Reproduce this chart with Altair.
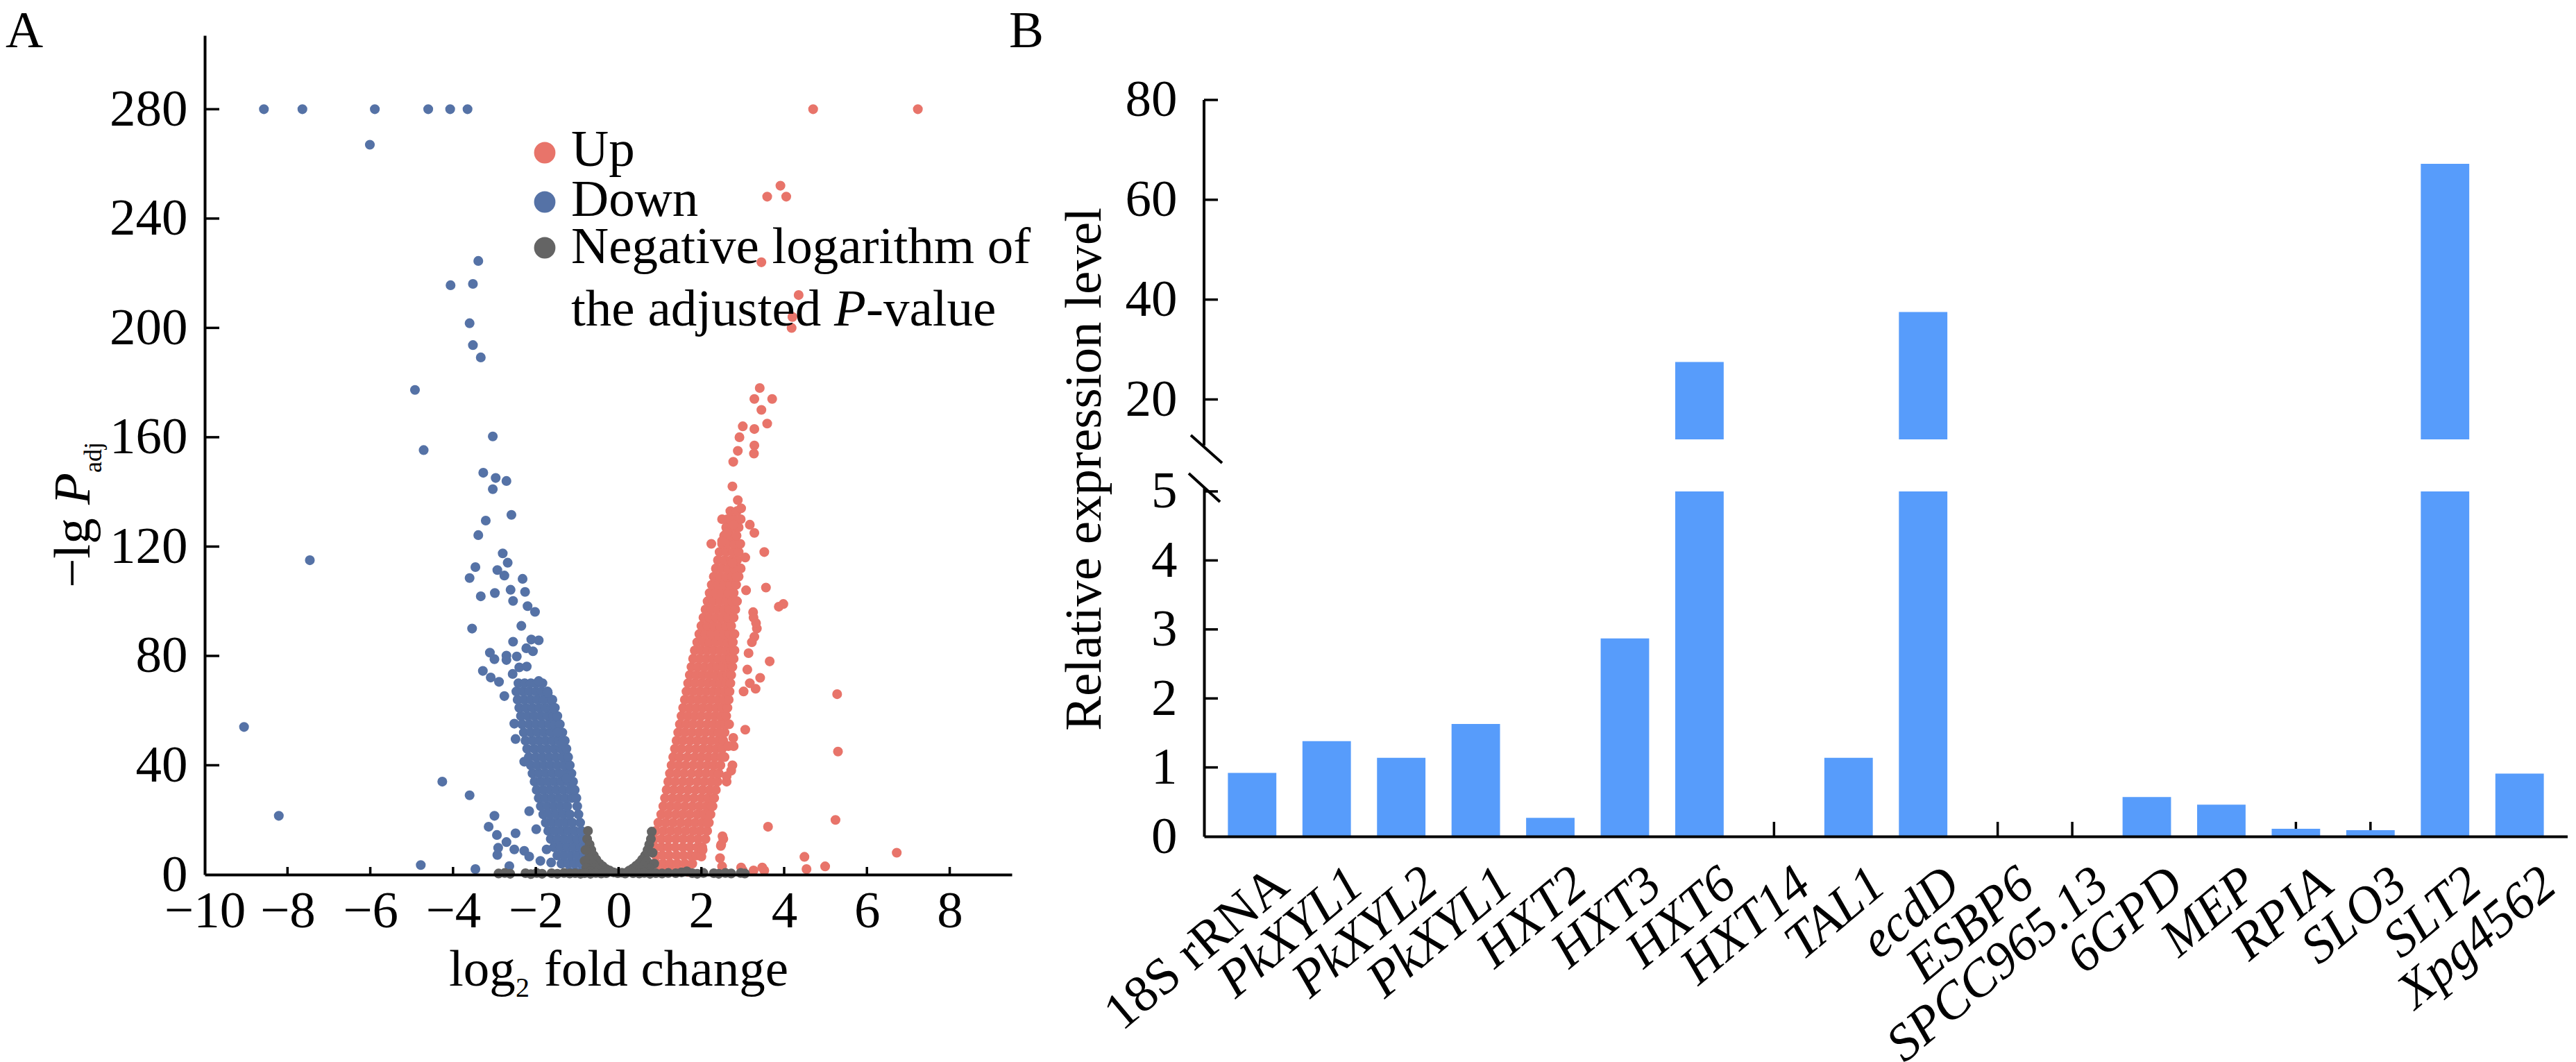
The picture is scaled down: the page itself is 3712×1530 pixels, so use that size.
import json
import altair as alt
import pandas as pd

FONT = "Liberation Serif"
FS = 75
UP_COLOR = "#E8746A"
DOWN_COLOR = "#5572A6"
NS_COLOR = "#646464"
BAR_COLOR = "#579CFB"

# ---------------- Panel A: volcano plot values ----------------
# dense "Up" band: (-lg Padj, [log2 fold change values])
UP_BAND_ROWS = [
    (1, [0.98, 1.15, 1.32, 1.5, 1.68]),
    (4, [0.92, 1.08, 1.25, 1.42, 1.6, 1.78]),
    (7, [0.9, 1.06, 1.22, 1.4, 1.57, 1.74, 1.88]),
    (10, [0.88, 1.04, 1.2, 1.37, 1.55, 1.72, 1.9, 2.02]),
    (13, [0.86, 1.03, 1.2, 1.38, 1.56, 1.74, 1.92, 2.1]),
    (16, [0.9, 1.08, 1.26, 1.44, 1.62, 1.8, 1.97, 2.14]),
    (19, [0.96, 1.14, 1.32, 1.5, 1.68, 1.85, 2.02, 2.18]),
    (22, [1.03, 1.2, 1.38, 1.55, 1.72, 1.9, 2.06, 2.22]),
    (25, [1.08, 1.25, 1.42, 1.6, 1.78, 1.95, 2.12, 2.27]),
    (28, [1.12, 1.3, 1.47, 1.64, 1.82, 2.0, 2.16, 2.31]),
    (31, [1.16, 1.33, 1.5, 1.68, 1.86, 2.03, 2.2, 2.35]),
    (34, [1.2, 1.37, 1.55, 1.72, 1.9, 2.07, 2.24, 2.39]),
    (37, [1.24, 1.41, 1.58, 1.76, 1.94, 2.11, 2.28, 2.42]),
    (40, [1.28, 1.45, 1.62, 1.8, 1.97, 2.14, 2.3, 2.46]),
    (43, [1.32, 1.48, 1.66, 1.84, 2.0, 2.17, 2.33, 2.48]),
    (46, [1.36, 1.52, 1.7, 1.87, 2.04, 2.2, 2.36, 2.5]),
    (49, [1.4, 1.56, 1.73, 1.9, 2.07, 2.24, 2.4, 2.53]),
    (52, [1.44, 1.6, 1.77, 1.94, 2.1, 2.27, 2.42, 2.56]),
    (55, [1.48, 1.64, 1.8, 1.97, 2.14, 2.3, 2.45, 2.58]),
    (58, [1.52, 1.68, 1.84, 2.0, 2.17, 2.33, 2.48, 2.6]),
    (61, [1.56, 1.72, 1.88, 2.04, 2.2, 2.36, 2.5, 2.63]),
    (64, [1.6, 1.76, 1.92, 2.08, 2.24, 2.4, 2.54, 2.66]),
    (67, [1.64, 1.8, 1.96, 2.12, 2.28, 2.43, 2.57, 2.68]),
    (70, [1.68, 1.84, 2.0, 2.16, 2.32, 2.46, 2.6, 2.7]),
    (73, [1.72, 1.88, 2.04, 2.2, 2.35, 2.5, 2.63, 2.72]),
    (76, [1.76, 1.92, 2.08, 2.24, 2.38, 2.52, 2.66, 2.75]),
    (79, [1.8, 1.96, 2.12, 2.27, 2.42, 2.56, 2.69, 2.78]),
    (82, [1.84, 2.0, 2.15, 2.3, 2.45, 2.6, 2.72, 2.8]),
    (85, [1.9, 2.05, 2.2, 2.35, 2.5, 2.64, 2.76]),
    (88, [1.95, 2.1, 2.25, 2.4, 2.55, 2.68, 2.8]),
    (91, [2.0, 2.15, 2.3, 2.45, 2.6, 2.72]),
    (94, [2.05, 2.2, 2.35, 2.5, 2.64, 2.78]),
    (97, [2.1, 2.25, 2.4, 2.55, 2.68, 2.82]),
    (100, [2.15, 2.3, 2.45, 2.6, 2.74, 2.86]),
    (103, [2.2, 2.35, 2.5, 2.65, 2.78]),
    (106, [2.25, 2.4, 2.55, 2.7, 2.84]),
    (109, [2.3, 2.45, 2.6, 2.74, 2.9]),
    (112, [2.35, 2.5, 2.65, 2.8, 2.95]),
    (115, [2.4, 2.56, 2.72, 2.86]),
    (118, [2.44, 2.6, 2.76, 2.9]),
    (121, [2.5, 2.65, 2.8, 2.94]),
    (124, [2.55, 2.7, 2.85]),
    (127, [2.6, 2.75, 2.9]),
    (130, [2.63, 2.78, 2.95]),
    (133, [2.7, 2.86]),
]
UP_SCATTER = [
    (4.70, 280), (7.23, 280), (3.59, 248), (3.91, 252), (4.05, 248), (3.45, 224),
    (4.35, 212), (4.20, 204), (4.18, 200), (3.41, 178), (3.28, 174), (3.71, 174),
    (3.45, 170), (3.59, 165), (3.00, 164), (3.28, 163), (2.92, 160), (3.28, 157),
    (3.27, 154), (2.88, 155), (2.77, 151), (2.75, 142), (2.88, 137), (2.96, 134),
    (2.50, 130), (2.78, 128), (2.61, 125), (3.17, 128), (3.28, 125), (2.24, 121),
    (2.50, 122), (3.52, 118), (2.75, 114), (3.06, 116), (3.56, 105), (3.87, 98),
    (3.98, 99), (3.25, 96), (3.34, 90), (3.28, 87), (3.14, 81), (3.65, 78),
    (3.11, 75), (3.31, 68), (3.17, 70), (5.28, 66), (2.67, 55), (3.06, 53),
    (2.78, 47), (2.56, 43), (2.72, 38), (2.61, 34), (5.30, 45), (3.61, 17.5),
    (5.24, 20), (6.72, 8), (4.49, 6.5), (4.54, 2), (4.99, 3), (2.47, 10.5),
    (2.50, 3), (2.00, 6.6), (3.00, 1.5), (3.52, 1.5), (3.26, 1.5), (2.53, 13),
    (2.03, 9), (3.08, 104), (3.26, 94), (3.32, 92), (3.22, 85), (3.42, 72),
    (3.02, 67), (2.85, 109), (2.77, 50), (2.65, 47), (2.75, 40), (2.61, 36),
    (2.25, 25), (2.15, 19), (2.51, 14), (2.48, 11), (2.45, 6), (2.96, 2.6), (3.47, 2.6),
]
# dense "Down" band
DOWN_BAND_ROWS = [
    (1, [-1.2, -1.05, -0.9, -0.76]),
    (4, [-1.38, -1.22, -1.07, -0.92, -0.78]),
    (7, [-1.48, -1.32, -1.16, -1.0, -0.84]),
    (10, [-1.56, -1.4, -1.24, -1.08, -0.92, -0.82]),
    (13, [-1.64, -1.48, -1.32, -1.16, -1.0, -0.86]),
    (16, [-1.7, -1.54, -1.38, -1.22, -1.06, -0.9]),
    (19, [-1.76, -1.6, -1.44, -1.28, -1.12, -0.93]),
    (22, [-1.82, -1.66, -1.5, -1.34, -1.18, -0.97]),
    (25, [-1.88, -1.72, -1.56, -1.4, -1.24, -1.0]),
    (28, [-1.93, -1.77, -1.61, -1.45, -1.29, -1.13, -1.02]),
    (31, [-1.98, -1.82, -1.66, -1.5, -1.34, -1.18, -1.06]),
    (34, [-2.03, -1.87, -1.71, -1.55, -1.39, -1.23, -1.1]),
    (37, [-2.08, -1.92, -1.76, -1.6, -1.44, -1.28, -1.14]),
    (40, [-2.12, -1.96, -1.8, -1.64, -1.48, -1.32, -1.18]),
    (43, [-2.17, -2.0, -1.84, -1.68, -1.52, -1.36, -1.22]),
    (46, [-2.21, -2.04, -1.88, -1.72, -1.56, -1.4, -1.26]),
    (49, [-2.25, -2.08, -1.92, -1.76, -1.6, -1.45, -1.3]),
    (52, [-2.29, -2.12, -1.96, -1.8, -1.64, -1.5, -1.36]),
    (55, [-2.33, -2.16, -2.0, -1.84, -1.68, -1.54, -1.42]),
    (58, [-2.36, -2.2, -2.04, -1.88, -1.72, -1.58, -1.48]),
    (61, [-2.4, -2.24, -2.08, -1.92, -1.77, -1.62, -1.54]),
    (64, [-2.44, -2.28, -2.12, -1.96, -1.81, -1.66, -1.6]),
    (67, [-2.47, -2.31, -2.16, -2.0, -1.86, -1.72]),
    (70, [-2.42, -2.27, -2.12, -1.98, -1.84]),
]
DOWN_SCATTER = [
    (-8.57, 280), (-7.64, 280), (-5.89, 280), (-4.60, 280), (-4.07, 280), (-3.65, 280),
    (-6.01, 267), (-3.39, 224.5), (-4.06, 215.6), (-3.52, 216.1), (-3.60, 201.7),
    (-3.52, 193.7), (-3.33, 189.2), (-4.92, 177.3), (-3.04, 160.3), (-4.71, 155.3),
    (-3.27, 147.0), (-2.97, 145.1), (-2.71, 144.0), (-3.04, 141.0), (-2.59, 131.6),
    (-3.21, 129.5), (-3.39, 124.2), (-2.80, 117.5), (-2.68, 114.1), (-7.46, 115.0),
    (-3.46, 112.5), (-2.93, 111.4), (-2.76, 109.4), (-3.60, 108.5), (-2.32, 108.2),
    (-2.61, 104.2), (-2.26, 103.4), (-2.99, 103.0), (-3.33, 101.8), (-2.55, 100.1),
    (-2.20, 98.2), (-2.02, 96.1), (-2.35, 91.0), (-3.54, 90.0), (-2.55, 85.2),
    (-2.11, 86.0), (-1.93, 85.7), (-2.23, 82.8), (-2.07, 81.7), (-3.11, 81.2),
    (-3.00, 78.8), (-2.71, 80.1), (-2.71, 78.5), (-2.46, 79.8), (-3.28, 74.5),
    (-3.09, 72.1), (-2.89, 70.5), (-2.76, 65.3), (-2.56, 73.4), (-2.40, 75.8),
    (-2.22, 76.1), (-1.93, 70.8), (-1.71, 66.5), (-1.56, 60.8), (-1.47, 52.0),
    (-1.38, 48.0), (-1.26, 35.2), (-2.52, 55.2), (-2.49, 49.6), (-2.28, 41.3),
    (-4.26, 34.0), (-3.60, 29.0), (-8.21, 21.5), (-9.05, 54.0), (-2.16, 23.2),
    (-1.99, 16.6), (-3.00, 21.5), (-3.14, 17.5), (-2.94, 14.5), (-2.71, 11.9),
    (-2.49, 15.1), (-2.91, 9.8), (-2.93, 7.2), (-2.52, 9.2), (-2.28, 8.7),
    (-2.16, 6.6), (-1.89, 5.0), (-2.64, 3.1), (-4.78, 3.5), (-3.46, 2.0),
    (-1.74, 9.2), (-1.63, 4.4),
]
NS_POINTS = [
    (-0.74, 16), (-0.76, 13), (-0.7, 11), (-0.66, 9), (-0.6, 7), (-0.54, 5.5),
    (-0.46, 4), (-0.38, 3), (-0.3, 2), (-0.22, 1.5), (-0.72, 6), (-0.64, 4),
    (-0.56, 2.5), (-0.48, 1.5), (-0.8, 9), (-0.82, 5), (-0.78, 2.5), (-0.68, 1.2),
    (0.8, 15.7), (0.78, 13), (0.74, 11), (0.7, 9), (0.64, 7), (0.57, 5.5),
    (0.5, 4.2), (0.42, 3.2), (0.34, 2.2), (0.26, 1.5), (0.68, 5), (0.6, 3.2),
    (0.52, 2), (0.82, 8), (0.86, 4), (0.76, 2.2), (0.72, 1),
    (-2.9, 0.4), (-2.75, 0.6), (-2.62, 0.3), (-2.25, 0.5), (-2.12, 0.2), (-1.98, 0.6),
    (-1.85, 0.3), (-1.62, 0.5), (-1.48, 0.3), (-1.32, 0.6), (-1.18, 0.4), (-1.05, 0.5),
    (-0.92, 0.3), (-0.12, 0.8), (-0.02, 0.5), (0.08, 0.7), (0.16, 0.4), (0.22, 1.0),
    (0.35, 0.5), (0.5, 0.4), (0.62, 0.6), (0.76, 0.3), (0.9, 0.5), (1.05, 0.4),
    (1.2, 0.6), (1.38, 0.5), (1.52, 0.8), (1.65, 1.2), (1.78, 0.5), (1.9, 0.3),
    (2.05, 0.6), (2.3, 0.5), (2.42, 0.3), (2.58, 0.6), (2.72, 0.4), (2.95, 0.6),
    (3.05, 0.4), (-0.3, 0.5), (-0.42, 0.4), (-0.55, 0.6), (-0.68, 0.3), (-0.82, 0.5),
]
X_LABELS_A = [-10, -8, -6, -4, -2, 0, 2, 4, 6, 8]
X_TICKS_A = [-8, -6, -4, -2, 0, 2, 4, 6, 8]
Y_LABELS_A = [0, 40, 80, 120, 160, 200, 240, 280]
Y_TICKS_A = [40, 80, 120, 160, 200, 240, 280]
LEGEND_LABELS = ["Up", "Down", "Negative logarithm of"]
LEGEND_LINE2 = ["the adjusted ", "P", "-value"]
LEGEND_COLORS = [UP_COLOR, DOWN_COLOR, NS_COLOR]

# ---------------- Panel B: relative expression ----------------
GENES = ["18S rRNA", "PkXYL1", "PkXYL2", "PkXYL1", "HXT2", "HXT3", "HXT6", "HXT14",
         "TAL1", "ecdD", "ESBP6", "SPCC965.13", "6GPD", "MEP", "RPIA", "SLO3",
         "SLT2", "Xpg4562"]
EXPR = [0.92, 1.38, 1.14, 1.63, 0.27, 2.87, 27.5, 0.0, 1.14, 37.5, 0.0, 0.0,
        0.57, 0.46, 0.11, 0.09, 67.2, 0.91]
LOWER_LABELS_B = [0, 1, 2, 3, 4, 5]
LOWER_TICKS_B = [1, 2, 3, 4, 5]
UPPER_LABELS_B = [20, 40, 60, 80]
LOWER_MAX, LOWER_TOP = 5, 5.05
UPPER_BASE, UPPER_TOP = 12, 92.93
UPPER_AXIS = [(80, 10.8)]

# ---------------- helpers ----------------
ONE = pd.DataFrame({"k": [0]})
NO_FRAME = alt.ViewBackground(stroke="transparent", strokeWidth=0)


def rows_df(rows, extra):
    xs, ys = [], []
    for yv, row in rows:
        for xv in row:
            xs.append(xv)
            ys.append(yv)
    for xv, yv in extra:
        xs.append(xv)
        ys.append(yv)
    return pd.DataFrame({"lfc": xs, "nlp": ys})


def txt(text, x, y, size=FS, style="normal", angle=0, align="left", baseline="alphabetic"):
    return alt.Chart(ONE).mark_text(
        text=text, font=FONT, fontSize=size, fontStyle=style, angle=angle,
        align=align, baseline=baseline, color="black"
    ).encode(x=alt.value(x), y=alt.value(y))


# ---------------- Panel A ----------------
W_A, H_A = 1163, 1209
scale_xA = alt.Scale(domain=[-10, 9.5], nice=False, zero=False)
scale_yA = alt.Scale(domain=[0, 307], nice=False, zero=False)
axis_xA = alt.Axis(values=X_LABELS_A, title=None, ticks=False, tickSize=0, labelPadding=16,
                   labelFontSize=FS, labelFont=FONT, labelFlush=False, labelOverlap=False,
                   domainWidth=4, domainColor="black", labelColor="black", grid=False, zindex=1)
axis_yA = alt.Axis(values=Y_LABELS_A, title=None, ticks=False, tickSize=0, labelPadding=25,
                   labelFontSize=FS, labelFont=FONT, labelFlush=False, labelOverlap=False,
                   domainWidth=4, domainColor="black", labelColor="black", grid=False, zindex=1)


def XA():
    return alt.X("lfc:Q", scale=scale_xA, axis=axis_xA)


def YA():
    return alt.Y("nlp:Q", scale=scale_yA, axis=axis_yA)


def pts(df, color):
    return alt.Chart(df).mark_circle(size=200, opacity=1, color=color).encode(x=XA(), y=YA())


layersA = [
    pts(rows_df(DOWN_BAND_ROWS, DOWN_SCATTER), DOWN_COLOR),
    pts(rows_df(UP_BAND_ROWS, UP_SCATTER), UP_COLOR),
    pts(rows_df([], NS_POINTS), NS_COLOR),
    alt.Chart(pd.DataFrame({"lfc": X_TICKS_A})).mark_rule(strokeWidth=3.5, color="black")
    .encode(x=XA(), y=alt.value(H_A), y2=alt.value(H_A - 11)),
    alt.Chart(pd.DataFrame({"nlp": Y_TICKS_A})).mark_rule(strokeWidth=3.5, color="black")
    .encode(y=YA(), x=alt.value(0), x2=alt.value(21)),
]
legend_y = [169, 240, 306]
text_y = [188, 260, 328]
for lab, col, cy, ty in zip(LEGEND_LABELS, LEGEND_COLORS, legend_y, text_y):
    layersA.append(alt.Chart(ONE).mark_circle(size=950, opacity=1, color=col)
                   .encode(x=alt.value(490), y=alt.value(cy)))
    layersA.append(txt(lab, 528, ty))
layersA += [
    txt(LEGEND_LINE2[0], 528, 418),
    txt(LEGEND_LINE2[1], 907, 418, style="italic"),
    txt(LEGEND_LINE2[2], 953, 418),
    txt("A", -287, 17),
    # y title: −lg P_adj
    txt("\u2212lg ", -166, 796, angle=270),
    txt("P", -166, 676, angle=270, style="italic"),
    txt("adj", -149, 630, size=36, angle=270),
    # x title: log2 fold change
    txt("log", 352, 1369),
    txt("2", 448, 1385, size=40),
    txt("fold change", 489, 1369),
]
panelA = alt.layer(*layersA).properties(width=W_A, height=H_A, view=NO_FRAME)

# ---------------- Panel B ----------------
W_B, H_U, H_L = 1965, 582, 502
bdf = pd.DataFrame({"idx": list(range(len(GENES))), "gene": GENES, "value": EXPR})
scale_xB = alt.Scale(domain=list(range(len(GENES))), paddingInner=0.35, paddingOuter=0.32)
axis_xB = alt.Axis(
    title=None, ticks=False, tickSize=0, labelExpr=f"{json.dumps(GENES)}[datum.value]",
    labelAngle=320, labelAlign="right", labelBaseline="top", labelPadding=31, labelOffset=19,
    labelFontSize=FS, labelFont=FONT, labelColor="black",
    labelFontStyle={"condition": {"test": "datum.value == 0", "value": "normal"}, "value": "italic"},
    labelLimit=1000, labelOverlap=False, domainWidth=4, domainColor="black", grid=False, zindex=1,
)
scale_yL = alt.Scale(domain=[0, LOWER_TOP], nice=False, zero=False)
axis_yL = alt.Axis(values=LOWER_LABELS_B, title=None, ticks=False, tickSize=0, labelPadding=39,
                   labelFontSize=FS, labelFont=FONT, labelColor="black", labelOverlap=False,
                   labelFlush=False, domainWidth=4, domainColor="black", grid=False, zindex=1)
scale_yU = alt.Scale(domain=[UPPER_BASE, UPPER_TOP], nice=False, zero=False)
axis_yU = alt.Axis(values=UPPER_LABELS_B, title=None, ticks=False, tickSize=0, domain=False,
                   labelPadding=39, labelFontSize=FS, labelFont=FONT, labelColor="black",
                   labelOverlap=False, labelFlush=False, grid=False)

lower = alt.layer(
    alt.Chart(bdf).mark_rule(strokeWidth=3.5, color="black").encode(
        x=alt.X("idx:O", scale=scale_xB, axis=axis_xB), y=alt.value(H_L), y2=alt.value(H_L - 21)),
    alt.Chart(bdf).transform_calculate(low=f"min(datum.value, {LOWER_MAX})").mark_bar(color=BAR_COLOR)
    .encode(x=alt.X("idx:O", scale=scale_xB, axis=axis_xB),
            y=alt.Y("low:Q", scale=scale_yL, axis=axis_yL)),
    alt.Chart(pd.DataFrame({"low": LOWER_TICKS_B})).mark_rule(strokeWidth=3.5, color="black")
    .encode(y=alt.Y("low:Q", scale=scale_yL, axis=axis_yL), x=alt.value(0), x2=alt.value(20)),
    alt.Chart(ONE).mark_rule(strokeWidth=4, color="black").encode(
        x=alt.value(-22), x2=alt.value(23), y=alt.value(-21), y2=alt.value(20)),
    txt("Relative expression level", -149, -27, angle=270, align="center"),
).properties(width=W_B, height=H_L, view=NO_FRAME)

upper = alt.layer(
    alt.Chart(bdf).transform_filter(f"datum.value > {UPPER_BASE}").mark_bar(color=BAR_COLOR)
    .encode(x=alt.X("idx:O", scale=scale_xB, axis=None),
            y=alt.Y("value:Q", scale=scale_yU, axis=axis_yU),
            y2=alt.datum(UPPER_BASE)),
    alt.Chart(pd.DataFrame({"value": [a for a, b in UPPER_AXIS], "value2": [b for a, b in UPPER_AXIS]}))
    .mark_rule(strokeWidth=4, color="black")
    .encode(y=alt.Y("value:Q", scale=scale_yU, axis=axis_yU), y2="value2:Q", x=alt.value(0)),
    alt.Chart(pd.DataFrame({"value": UPPER_LABELS_B})).mark_rule(strokeWidth=3.5, color="black")
    .encode(y=alt.Y("value:Q", scale=scale_yU, axis=axis_yU), x=alt.value(0), x2=alt.value(20)),
    alt.Chart(ONE).mark_rule(strokeWidth=4, color="black").encode(
        x=alt.value(-19), x2=alt.value(26), y=alt.value(H_U - 6), y2=alt.value(H_U + 34)),
    txt("B", -281, 17),
).properties(width=W_B, height=H_U, view=NO_FRAME)

panelB = alt.vconcat(upper, lower, spacing=70, bounds="flush")

chart = (
    alt.hconcat(panelA, panelB, spacing=277, bounds="flush")
    .properties(padding=0)
    .configure(font=FONT)
    .configure_view(stroke="transparent", strokeWidth=0)
)
chart.save("out.html", embed_options={"renderer": "svg", "actions": False})
